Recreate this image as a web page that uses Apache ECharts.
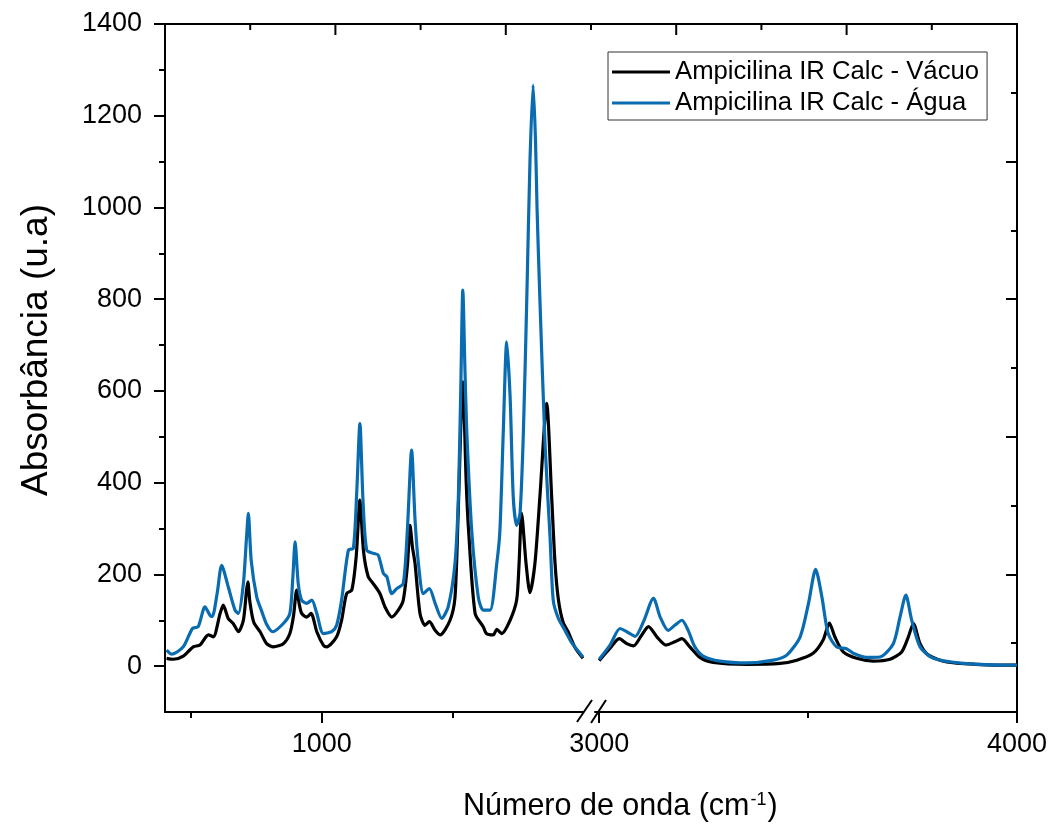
<!DOCTYPE html>
<html>
<head>
<meta charset="utf-8">
<script src="https://cdn.jsdelivr.net/npm/echarts@6/dist/echarts.min.js"></script>
<style>
html,body{margin:0;padding:0;background:#fff;}
#chart{width:1055px;height:825px;}
</style>
</head>
<body>
<div id="chart"></div>
<script>
// ---- Data ----
const seriesNames = ['Ampicilina IR Calc - Vácuo', 'Ampicilina IR Calc - Água'];

// Left segment (400–2000 cm-1)
const vacLeftX = [406,432,470,508,534,566,585,611,623,642,661,681,700,712,717,725,740,764,789,815,853,878,892,904,914,923,942,959,981,1006,1019,1057,1076,1095,1115,1132,1146,1160,1178,1197,1223,1242,1268,1293,1312,1328,1338,1347,1357,1376,1395,1412,1434,1453,1491,1510,1522,1540,1553,1562,1587,1618,1630,1656,1670,1689,1721,1746,1755,1765,1782,1797,1816,1835,1861,1880,1893,1906,1924,1943,1970,2000];
const vacLeftY = [17,15,22,42,46,68,64,115,133,104,93,75,100,165,184,140,95,75,49,42,49,71,110,166,135,115,107,115,75,46,42,64,100,158,166,240,362,250,195,180,158,129,107,122,144,220,307,260,224,115,89,97,78,68,100,150,330,620,400,296,115,86,71,68,80,71,100,144,220,333,224,160,224,369,573,369,224,144,95,75,40,17];

const watLeftX = [406,426,470,505,527,553,572,581,600,617,642,668,681,700,712,719,730,751,770,790,812,853,878,889,898,910,923,942,962,981,1006,1038,1057,1076,1102,1121,1134,1146,1158,1172,1197,1216,1236,1249,1268,1287,1312,1328,1344,1357,1370,1389,1412,1434,1459,1484,1510,1523,1532,1540,1548,1555,1574,1599,1618,1644,1670,1682,1695,1708,1721,1733,1746,1759,1772,1785,1797,1809,1818,1824,1835,1855,1874,1886,1905,1931,1958,2000];
const watLeftY = [35,26,42,82,86,129,111,108,160,220,173,122,115,180,280,333,230,151,120,90,75,93,115,190,271,180,144,137,144,115,71,75,89,144,253,257,380,529,360,253,246,242,202,195,158,169,180,300,471,320,224,158,169,137,104,129,224,369,600,820,650,514,296,151,122,122,224,296,514,707,587,369,307,333,514,805,1100,1267,1150,1000,800,480,280,144,105,78,50,20];

// Right segment (3000–4000 cm-1)
const vacRightX = [3000,3026,3048,3066,3082,3102,3118,3138,3160,3181,3198,3217,3241,3273,3353,3433,3473,3512,3536,3551,3564,3584,3616,3656,3696,3724,3740,3752,3768,3788,3832,3900,3991,4000];
const vacRightY = [12,39,60,49,44,68,86,64,46,53,60,42,19,8,4,6,13,28,57,94,64,31,17,11,15,31,64,93,49,24,9,4,2,2];

const watRightX = [3000,3026,3050,3066,3086,3106,3130,3146,3165,3181,3198,3213,3229,3249,3289,3353,3417,3449,3481,3501,3518,3533,3548,3568,3592,3608,3640,3672,3704,3720,3734,3748,3768,3800,3872,3991,4000];
const watRightY = [15,46,82,75,65,97,148,107,78,89,100,78,42,22,11,7,13,24,64,137,211,151,71,42,38,28,19,20,49,107,155,100,42,17,6,2,2];

// Axis ticks / labels
const yLabelTicks = [0,200,400,600,800,1000,1200,1400];
const yMinorTicks = [100,300,500,700,900,1100,1300];
const xLeftLabels = [1000];
const xLeftMinor = [500,1500];
const xRightLabels = [3000,4000];
const xRightMinor = [3500];
const frameMajor = [0.2,0.4,0.6,0.8,1.0];
const frameMinor = [0.1,0.3,0.5,0.7,0.9];

const zip = (xs, ys) => xs.map((x, i) => [x, ys[i]]);

// ---- Layout ----
const PLOT = {left: 165, top: 24, width: 852, height: 688};
const FONT = "'Liberation Sans', Arial, Helvetica, sans-serif";
const BLACK = '#000000';
const BLUE = '#0A6CB0';
const LW = 3.2;
const MAJOR_LEN = 11, MINOR_LEN = 6;
const axisLineStyle = {onZero: false, lineStyle: {color: '#000', width: 2}};
const noLine = {show: false, onZero: false};
const plain = v => String(v);

const chart = echarts.init(document.getElementById('chart'), null, {renderer: 'canvas'});

function xAxisDef(grid, pos, min, max, opts) {
  return Object.assign({
    type: 'value', gridIndex: grid, position: pos, min: min, max: max,
    splitLine: {show: false},
    axisLine: noLine,
    axisTick: {show: false},
    axisLabel: {show: false}
  }, opts);
}

const breakMarks = [
  {type: 'line', shape: {x1: 577, y1: 722, x2: 592, y2: 700}, style: {stroke: '#000', lineWidth: 2}, z: 100},
  {type: 'line', shape: {x1: 591, y1: 723, x2: 606, y2: 700}, style: {stroke: '#000', lineWidth: 2}, z: 100}
];
// top-frame ticks (frame fraction 0..1 across the plot width), hanging down into the plot
const topFrameTicks = (values, len) => values.map(v => {
  const x = PLOT.left + v * PLOT.width;
  return {type: 'line', shape: {x1: x, y1: PLOT.top, x2: x, y2: PLOT.top + len},
          style: {stroke: '#000', lineWidth: 2}, z: 100};
});

const option = {
  backgroundColor: '#fff',
  animation: false,
  textStyle: {fontFamily: FONT},
  title: {
    text: '{a|Número de onda (cm}{s|-1}{a|)}',
    left: 458, top: 786,
    textStyle: {
      fontWeight: 'normal',
      rich: {
        a: {fontSize: 30.5, fontFamily: FONT, color: '#000', fontWeight: 'normal'},
        s: {fontSize: 18, fontFamily: FONT, color: '#000', fontWeight: 'normal', verticalAlign: 'top', padding: [0, 1, 0, 1]}
      }
    }
  },
  legend: {
    orient: 'vertical', left: 608, top: 52,
    padding: [7, 8, 4, 4], itemGap: 5, itemWidth: 58, itemHeight: 3,
    icon: 'rect',
    backgroundColor: '#fff', borderColor: '#333', borderWidth: 1, borderRadius: 0,
    textStyle: {fontSize: 25.7, color: '#000', fontFamily: FONT, lineHeight: 25},
    data: seriesNames
  },
  grid: [
    {left: PLOT.left, top: PLOT.top, width: 418, height: PLOT.height},
    {left: 595, top: PLOT.top, width: 422, height: PLOT.height},
    {left: PLOT.left, top: PLOT.top, width: PLOT.width, height: PLOT.height}
  ],
  xAxis: [
    xAxisDef(0, 'bottom', 400, 2000, {
      axisLine: axisLineStyle,
      axisTick: {show: true, customValues: xLeftLabels, length: MAJOR_LEN, lineStyle: {width: 2, color: '#000'}},
      axisLabel: {show: true, customValues: xLeftLabels, formatter: plain, fontSize: 27, color: '#000', fontFamily: FONT, margin: 19}
    }),
    xAxisDef(0, 'bottom', 400, 2000, {
      axisTick: {show: true, customValues: xLeftMinor, length: MINOR_LEN, lineStyle: {width: 2, color: '#000'}}
    }),
    xAxisDef(1, 'bottom', 2990, 4000, {
      axisLine: axisLineStyle,
      axisTick: {show: true, customValues: xRightLabels, length: MAJOR_LEN, lineStyle: {width: 2, color: '#000'}},
      axisLabel: {show: true, customValues: xRightLabels, formatter: plain, fontSize: 27, color: '#000', fontFamily: FONT, margin: 19}
    }),
    xAxisDef(1, 'bottom', 2990, 4000, {
      axisTick: {show: true, customValues: xRightMinor, length: MINOR_LEN, lineStyle: {width: 2, color: '#000'}}
    }),
    // top frame line
    xAxisDef(2, 'top', 0, 1, {axisLine: axisLineStyle})
  ],
  yAxis: [
    {
      type: 'value', gridIndex: 0, position: 'left', min: -100, max: 1400,
      name: 'Absorbância (u.a)', nameLocation: 'middle', nameGap: 110,
      nameTextStyle: {fontSize: 37, color: '#000', fontFamily: FONT, padding: [0, 0, 0, 36]},
      splitLine: {show: false},
      axisLine: axisLineStyle,
      axisTick: {show: true, customValues: yLabelTicks, length: MAJOR_LEN, lineStyle: {width: 2, color: '#000'}},
      axisLabel: {show: true, customValues: yLabelTicks, formatter: plain, fontSize: 27, color: '#000', fontFamily: FONT, margin: 23}
    },
    {
      type: 'value', gridIndex: 0, position: 'left', min: -100, max: 1400,
      splitLine: {show: false}, axisLine: noLine, axisLabel: {show: false},
      axisTick: {show: true, customValues: yMinorTicks, length: MINOR_LEN, lineStyle: {width: 2, color: '#000'}}
    },
    {
      type: 'value', gridIndex: 1, position: 'left', min: -100, max: 1400, show: false,
      axisLine: noLine
    },
    {
      type: 'value', gridIndex: 2, position: 'right', min: 0, max: 1,
      splitLine: {show: false}, axisLine: axisLineStyle, axisLabel: {show: false},
      axisTick: {show: true, inside: true, customValues: frameMajor, length: MAJOR_LEN, lineStyle: {width: 2, color: '#000'}}
    },
    {
      type: 'value', gridIndex: 2, position: 'right', min: 0, max: 1,
      splitLine: {show: false}, axisLine: noLine, axisLabel: {show: false},
      axisTick: {show: true, inside: true, customValues: frameMinor, length: MINOR_LEN, lineStyle: {width: 2, color: '#000'}}
    }
  ],
  graphic: breakMarks.concat(topFrameTicks(frameMajor, MAJOR_LEN), topFrameTicks(frameMinor, MINOR_LEN)),
  series: [
    {name: seriesNames[0], type: 'line', xAxisIndex: 0, yAxisIndex: 0, data: zip(vacLeftX, vacLeftY),
     symbol: 'none', smooth: 0.25, lineStyle: {color: BLACK, width: LW}, itemStyle: {color: BLACK}},
    {name: seriesNames[0], type: 'line', xAxisIndex: 2, yAxisIndex: 2, data: zip(vacRightX, vacRightY),
     symbol: 'none', smooth: 0.25, lineStyle: {color: BLACK, width: LW}, itemStyle: {color: BLACK}},
    {name: seriesNames[1], type: 'line', xAxisIndex: 0, yAxisIndex: 0, data: zip(watLeftX, watLeftY),
     symbol: 'none', smooth: 0.25, lineStyle: {color: BLUE, width: LW}, itemStyle: {color: BLUE}},
    {name: seriesNames[1], type: 'line', xAxisIndex: 2, yAxisIndex: 2, data: zip(watRightX, watRightY),
     symbol: 'none', smooth: 0.25, lineStyle: {color: BLUE, width: LW}, itemStyle: {color: BLUE}}
  ]
};
chart.setOption(option);
</script>
</body>
</html>
